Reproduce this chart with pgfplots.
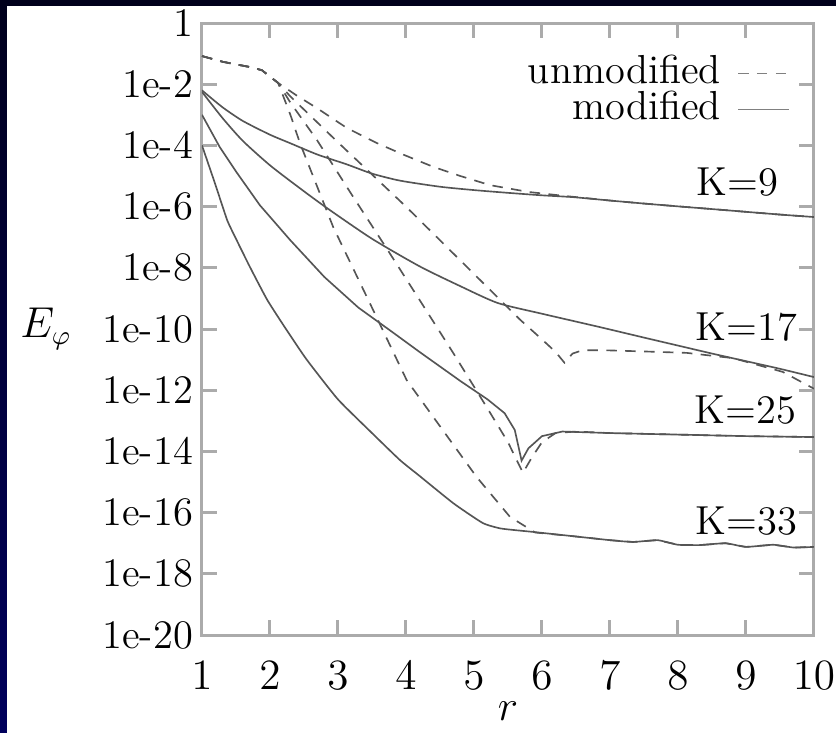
\documentclass[border=0pt]{standalone}
\usepackage{pgfplots}
\pgfplotsset{compat=1.18}
\definecolor{navytop}{HTML}{00001C}
\definecolor{navybot}{HTML}{00005C}
\definecolor{lc}{HTML}{555555}
\definecolor{ax}{HTML}{ABABAB}
\newcommand{\fs}{\fontsize{13.5}{16}\selectfont}
\tikzset{dsh/.style={draw=lc, line width=0.55pt, dash pattern=on 3.5pt off 2.8pt},
         sld/.style={draw=lc, line width=0.55pt}}
\begin{document}
\begin{tikzpicture}[x=1pt,y=1pt]
\useasboundingbox (-67.33,-32.33) rectangle (211.33,211.67);
\fill[white] (-67.33,-32.33) rectangle (211.33,211.67);
\shade[top color=navytop, bottom color=navybot] (-67.33,-32.33) rectangle (-65,211.67);
\fill[navytop] (-67.33,209.67) rectangle (211.33,211.67);
\begin{axis}[
  at={(0,0)}, anchor=south west, scale only axis,
  width=204pt, height=204pt,
  xmin=1, xmax=10, ymode=log, ymin=1e-20, ymax=1,
  xtick={1,2,3,4,5,6,7,8,9,10},
  ytick={1e-20,1e-18,1e-16,1e-14,1e-12,1e-10,1e-8,1e-6,1e-4,1e-2,1},
  yticklabels={1e-20,1e-18,1e-16,1e-14,1e-12,1e-10,1e-8,1e-6,1e-4,1e-2,1},
  yminorticks=false, xminorticks=false,
  tick align=inside, major tick length=5pt,
  tick style={draw=ax, line width=1pt},
  axis line style={draw=ax, line width=1pt},
  tick label style={font=\fs},
  xticklabel style={yshift=-5.5pt},
  yticklabel style={xshift=0.5pt},
  label style={font=\fs},
  xlabel={$r$}, ylabel={$E_\varphi$},
  xlabel style={at={(axis description cs:0.5,-0.125)}, anchor=center, inner sep=0pt},
  ylabel style={rotate=-90, at={(axis description cs:-0.255,0.5)}, anchor=center},
  legend plot pos=right,
  legend style={draw=none, fill=none, font=\fs, at={(rel axis cs:0.962,0.948)}, anchor=north east,
    inner sep=0pt, column sep=5pt, row sep=0pt,
    nodes={inner sep=0.5pt, text height=9pt, text depth=2pt}},
  legend cell align=right,
  clip=true,
]
\addlegendimage{dsh, draw=gray}
\addlegendimage{sld, draw=gray}
\legend{unmodified, modified}

% modified (solid)
\addplot[sld, smooth, tension=0.4] coordinates {(1,0.631e-2)(1.3,0.178e-2)(1.6,0.631e-3)(2,0.224e-3)(2.29,0.120e-3)(2.7,0.501e-4)(3.13,0.240e-4)(3.5,0.120e-4)(3.91,0.708e-5)(4.5,0.447e-5)(5,0.347e-5)(5.5,0.282e-5)(6,0.234e-5)(6.46,0.204e-5)(7,0.158e-5)(7.5,0.126e-5)(8,0.102e-5)(8.5,0.832e-6)(9,0.676e-6)(9.5,0.550e-6)(10,0.457e-6)};
\addplot[sld, smooth, tension=0.4] coordinates {(1,0.562e-2)(1.3,0.794e-3)(1.6,0.141e-3)(2,0.224e-4)(2.44,0.398e-5)(2.84,0.891e-6)(3.5,0.891e-7)(4.2,0.112e-7)(4.8,0.251e-8)(5.35,0.708e-9)(6,0.316e-9)(6.82,0.120e-9)(7.5,0.525e-10)(8,0.288e-10)(8.5,0.158e-10)(9,0.891e-11)(9.5,0.501e-11)(10,0.269e-11)};
\addplot[sld] coordinates {(1,1e-3)(1.26,0.891e-4)(1.5,0.141e-4)(1.85,0.112e-5)(2.3,0.794e-7)(2.8,0.501e-8)(3.3,0.501e-9)(3.8,0.794e-10)(4.2,0.178e-10)(4.8,0.2e-11)(5.2,0.501e-12)(5.45,0.178e-12)(5.6,0.501e-13)(5.7,0.501e-14)(5.8,0.126e-13)(6,0.316e-13)(6.3,0.447e-13)(7,0.398e-13)(8,0.355e-13)(9,0.316e-13)(10,0.295e-13)};
\addplot[sld, smooth, tension=0.3] coordinates {(1,1e-4)(1.2,0.501e-5)(1.37,0.363e-6)(1.5,0.891e-7)(1.7,0.112e-7)(1.96,0.891e-9)(2.25,0.891e-10)(2.54,1e-11)(3,0.501e-12)(3.5,0.398e-13)(3.91,0.525e-14)(4.2,0.158e-14)(4.7,0.2e-15)(5.13,0.457e-16)(5.4,0.302e-16)(5.87,0.234e-16)(6.5,0.166e-16)(7,0.126e-16)(7.34,0.110e-16)(7.7,0.126e-16)(8,0.891e-17)(8.32,0.871e-17)(8.7,1e-17)(9,0.759e-17)(9.4,0.891e-17)(9.7,0.724e-17)(10,0.759e-17)};

% unmodified (dashed)
\addplot[dsh] coordinates {(1,0.832e-1)(1.31,0.537e-1)(1.71,0.363e-1)(1.88,0.288e-1)(2.12,0.110e-1)(2.4,0.417e-2)(2.69,0.166e-2)(3.13,0.372e-3)(3.57,0.120e-3)(3.96,0.501e-4)(4.4,0.2e-4)(4.8,1e-5)(5.24,0.501e-5)(5.8,0.302e-5)(6.37,0.219e-5)(7,0.158e-5)(7.5,0.126e-5)(8,0.102e-5)(8.5,0.832e-6)(9,0.676e-6)(9.5,0.550e-6)(10,0.457e-6)};
\addplot[dsh] coordinates {(1,0.832e-1)(1.31,0.537e-1)(1.71,0.363e-1)(1.88,0.288e-1)(2.12,0.110e-1)(2.3,0.398e-2)(3,0.126e-3)(4,1e-6)(5,0.631e-8)(5.68,0.2e-9)(6.01,0.437e-10)(6.2,0.178e-10)(6.33,0.794e-11)(6.45,0.158e-10)(6.6,0.204e-10)(7,0.2e-10)(7.6,0.182e-10)(8.13,0.166e-10)(8.81,0.112e-10)(9.54,0.398e-11)(10,0.112e-11)};
\addplot[dsh] coordinates {(1,0.832e-1)(1.31,0.537e-1)(1.71,0.363e-1)(1.88,0.288e-1)(2.12,0.110e-1)(2.3,0.251e-2)(2.69,0.151e-3)(3.2,0.251e-5)(3.76,0.302e-7)(4.2,0.891e-9)(4.7,0.158e-10)(5.2,0.251e-12)(5.5,0.2e-13)(5.72,0.2e-14)(5.85,0.631e-14)(6,0.2e-13)(6.2,0.398e-13)(6.5,0.447e-13)(7,0.398e-13)(8,0.355e-13)(9,0.316e-13)(10,0.295e-13)};
\addplot[dsh] coordinates {(1,0.832e-1)(1.31,0.537e-1)(1.71,0.363e-1)(1.88,0.288e-1)(2.12,0.110e-1)(2.3,1e-3)(2.44,0.120e-3)(2.93,0.214e-6)(3.5,0.501e-9)(4.01,0.214e-11)(4.54,0.501e-13)(5.04,0.145e-14)(5.53,0.724e-16)(5.9,0.224e-16)(6.5,0.166e-16)(7,0.126e-16)(7.34,0.110e-16)(7.7,0.126e-16)(8,0.891e-17)(8.32,0.871e-17)(8.7,1e-17)(9,0.759e-17)(9.4,0.891e-17)(9.7,0.724e-17)(10,0.759e-17)};

\node[font=\fs] at (axis cs:8.87,6.31e-6) {K=9};
\node[font=\fs] at (axis cs:9.01,1.2e-10) {K=17};
\node[font=\fs] at (axis cs:8.99,2.2e-13) {K=25};
\node[font=\fs] at (axis cs:9.01,5.4e-17) {K=33};
\end{axis}
\end{tikzpicture}
\end{document}
